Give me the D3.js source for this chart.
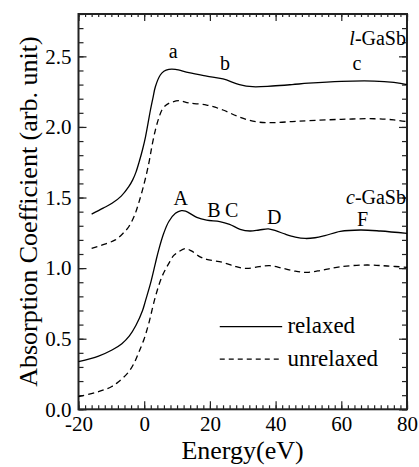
<!DOCTYPE html>
<html><head><meta charset="utf-8">
<script src="https://cdn.jsdelivr.net/npm/d3@7"></script>
<style>
body{margin:0;background:#fff}
svg{display:block}
svg text{font-family:"Liberation Serif","Times New Roman",Times,"DejaVu Serif",serif;}
</style>
</head><body>
<svg id="c" width="419" height="467"></svg>
<script>
const xTicks = [-20, 0, 20, 40, 60, 80];
const yTicks = [0.0, 0.5, 1.0, 1.5, 2.0, 2.5];

const lRelaxedE = [-16,-12.5,-9.8,-7,-4.7,-3.5,-2.5,-1.5,-0.5,0.4,1.2,1.9,2.7,3.4,4.9,6,7.5,9.5,13.6,19,24,29,33,39,45,50,60,70,76,80];
const lRelaxedV = [1.383,1.425,1.459,1.51,1.577,1.625,1.68,1.755,1.84,1.93,2.03,2.12,2.21,2.285,2.368,2.395,2.408,2.408,2.384,2.36,2.34,2.30,2.285,2.29,2.30,2.31,2.323,2.325,2.315,2.30];

const lUnrelaxedE = [-16,-12,-8.8,-6.5,-4.7,-3,-1.7,0,1.4,2.4,3.4,4.4,5.4,6.5,7.5,10.5,13.6,19,24,29,34,39,45,50,60,70,76,80];
const lUnrelaxedV = [1.14,1.17,1.20,1.245,1.293,1.37,1.459,1.60,1.742,1.87,1.978,2.06,2.12,2.152,2.167,2.186,2.17,2.155,2.12,2.07,2.037,2.03,2.038,2.044,2.054,2.058,2.05,2.037];

const cRelaxedE = [-20,-13.9,-9.8,-6.8,-4.5,-2.5,-0.5,0.4,1.9,3.4,4.4,6,7.5,9.5,11.3,12.6,16,19,23,26,29.2,32.2,35,37.8,40,43,46,49,52,55,59.7,65.8,71.9,80];
const cRelaxedV = [0.337,0.377,0.42,0.465,0.52,0.595,0.70,0.77,0.89,1.034,1.128,1.25,1.33,1.388,1.407,1.404,1.36,1.34,1.33,1.31,1.275,1.263,1.27,1.278,1.265,1.24,1.22,1.21,1.215,1.23,1.26,1.27,1.263,1.246];

const cUnrelaxedE = [-20,-13.9,-10,-7.8,-4.7,-3,-1.7,0,1.4,3.4,5.4,7.5,9,10.5,12.5,14.5,17,19,24,28,31.2,35,38.3,42,46,49.5,54,59.7,67.8,74,80];
const cUnrelaxedV = [0.089,0.125,0.16,0.195,0.266,0.33,0.40,0.50,0.609,0.797,0.939,1.034,1.09,1.116,1.138,1.12,1.08,1.062,1.04,1.01,0.998,1.01,1.017,1.0,0.978,0.97,0.985,1.01,1.022,1.015,1.006];

const peakLabels = [
  {t:"a", e:8.8, v:2.49},
  {t:"b", e:24.6, v:2.40},
  {t:"c", e:64.8, v:2.40},
  {t:"A", e:11.1, v:1.445},
  {t:"B", e:21.2, v:1.365},
  {t:"C", e:26.6, v:1.365},
  {t:"D", e:39.6, v:1.313},
  {t:"F", e:66.5, v:1.301}
];

const svg = d3.select("#c");
const x = d3.scaleLinear().domain([-20, 80]).range([78.5, 407]);
const y = d3.scaleLinear().domain([0, 2.8]).range([409.3, 14]);
const axisColor = "#222";

const x0 = x.range()[0], x1 = x.range()[1], y0 = y.range()[0], y1 = y.range()[1];

const xMinor = d3.range(-20, 80.01, 2);
const yMinor = d3.range(0, 2.801, 0.1);

function styleAxis(g){
  g.select(".domain").remove();
  g.selectAll("line").attr("stroke", axisColor).attr("stroke-width", 1.2);
  g.selectAll("text").style("font-size", "21px").attr("fill", "#000");
}
const xFmt = d => String(d);

// bottom
svg.append("g").attr("transform", `translate(0,${y0})`)
  .call(d3.axisBottom(x).tickValues(xMinor).tickSize(-4).tickFormat("")).call(styleAxis);
svg.append("g").attr("transform", `translate(0,${y0})`)
  .call(d3.axisBottom(x).tickValues(xTicks).tickSize(-8).tickPadding(7).tickFormat(xFmt)).call(styleAxis);
// top
svg.append("g").attr("transform", `translate(0,${y1})`)
  .call(d3.axisTop(x).tickValues(xMinor).tickSize(-3).tickFormat("")).call(styleAxis);
svg.append("g").attr("transform", `translate(0,${y1})`)
  .call(d3.axisTop(x).tickValues(xTicks).tickSize(-7).tickFormat("")).call(styleAxis);
// left
svg.append("g").attr("transform", `translate(${x0},0)`)
  .call(d3.axisLeft(y).tickValues(yMinor).tickSize(-5).tickFormat("")).call(styleAxis);
svg.append("g").attr("transform", `translate(${x0},0)`)
  .call(d3.axisLeft(y).tickValues(yTicks).tickSize(-8).tickPadding(7).tickFormat(d3.format(".1f"))).call(styleAxis);
// right
svg.append("g").attr("transform", `translate(${x1},0)`)
  .call(d3.axisRight(y).tickValues(yMinor).tickSize(-5).tickFormat("")).call(styleAxis);
svg.append("g").attr("transform", `translate(${x1},0)`)
  .call(d3.axisRight(y).tickValues(yTicks).tickSize(-8).tickFormat("")).call(styleAxis);

// frame
svg.append("rect").attr("x", x0).attr("y", y1).attr("width", x1 - x0).attr("height", y0 - y1)
  .attr("fill", "none").attr("stroke", axisColor).attr("stroke-width", 2);

// curves
const line = d3.line().x(d => x(d[0])).y(d => y(d[1])).curve(d3.curveCatmullRom.alpha(0.5));
const zip = (a, b) => a.map((e, i) => [e, b[i]]);
const series = [
  {e:lRelaxedE, v:lRelaxedV, dash:null},
  {e:lUnrelaxedE, v:lUnrelaxedV, dash:"6,4"},
  {e:cRelaxedE, v:cRelaxedV, dash:null},
  {e:cUnrelaxedE, v:cUnrelaxedV, dash:"6,4"}
];
series.forEach(s => {
  svg.append("path").attr("d", line(zip(s.e, s.v)))
    .attr("fill", "none").attr("stroke", "#000").attr("stroke-width", 1.3)
    .attr("stroke-dasharray", s.dash);
});

// peak labels
peakLabels.forEach(p => {
  svg.append("text").attr("x", x(p.e)).attr("y", y(p.v)).attr("text-anchor", "middle")
    .style("font-size", "20px").text(p.t);
});

// material labels
function matLabel(prefix, v){
  const t = svg.append("text").attr("x", x(80) - 1).attr("y", y(v)).attr("text-anchor", "end")
    .style("font-size", "20px");
  t.append("tspan").style("font-style", "italic").text(prefix);
  t.append("tspan").text("-GaSb");
}
matLabel("l", 2.58);
matLabel("c", 1.457);

// legend
const legend = [
  {t:"relaxed", dash:null, v:0.585},
  {t:"unrelaxed", dash:"5,4", v:0.356}
];
legend.forEach(l => {
  svg.append("line").attr("x1", x(23)).attr("x2", x(42)).attr("y1", y(l.v)).attr("y2", y(l.v))
    .attr("stroke", "#000").attr("stroke-width", 1.3).attr("stroke-dasharray", l.dash);
  svg.append("text").attr("x", x(43.6)).attr("y", y(l.v) + 6.5).style("font-size", "23px").text(l.t);
});

// axis titles
svg.append("text").attr("x", 242.5).attr("y", 459).attr("text-anchor", "middle")
  .style("font-size", "26px").text("Energy(eV)");
svg.append("text").attr("transform", `translate(37,${(y0 + y1) / 2}) rotate(-90)`)
  .attr("text-anchor", "middle").style("font-size", "26px")
  .text("Absorption Coefficient (arb. unit)");
</script>
</body></html>
